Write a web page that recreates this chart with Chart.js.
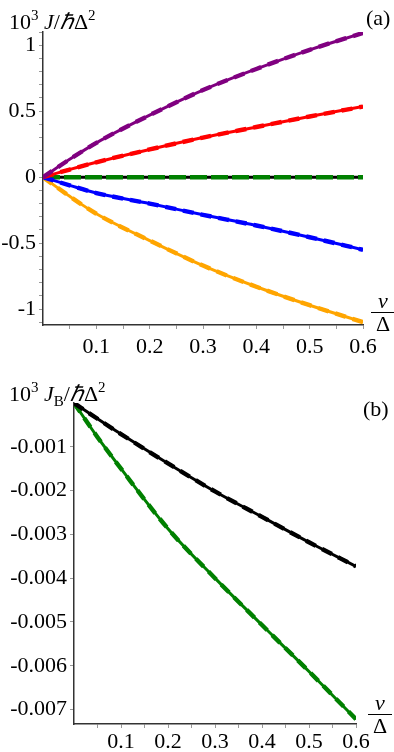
<!DOCTYPE html>
<html>
<head>
<meta charset="utf-8">
<script src="https://cdn.jsdelivr.net/npm/chart.js@4.4.1/dist/chart.umd.min.js"></script>
<style>
  body { margin: 0; background: #fff; }
  #wrap { position: relative; width: 394px; height: 752px; background: #fff; overflow: hidden; }
  canvas { position: absolute; left: 0; }
  .lbl { position: absolute; font-family: 'Liberation Serif', 'Times New Roman', serif; font-size: 22px;
         line-height: normal; white-space: nowrap; color: #000; }
  .sup { font-size: 15px; position: relative; top: -9px; }
  .sub { font-size: 15px; position: relative; top: 5px; }
  .frac { text-align: center; width: 24px; }
  .frac .den { border-top: 1.5px solid #000; line-height: 22px; }
  .frac .num { line-height: 22px; }
</style>
</head>
<body>
<div id="wrap">
  <canvas id="chartA" width="394" height="370" style="top:0"></canvas>
  <canvas id="chartB" width="394" height="382" style="top:370px"></canvas>

  <div class="lbl" style="left:9px;top:5px">10<span class="sup">3</span> <i>J</i>/<i>ℏ</i>Δ<span class="sup">2</span></div>
  <div class="lbl" style="left:366px;top:5px">(a)</div>
  <div class="lbl frac" style="left:371px;top:290px"><div class="num"><i>ν</i></div><div class="den">Δ</div></div>

  <div class="lbl" style="left:9px;top:377px">10<span class="sup">3</span> <i>J</i><span class="sub">B</span>/<i>ℏ</i>Δ<span class="sup">2</span></div>
  <div class="lbl" style="left:363px;top:396px">(b)</div>
  <div class="lbl frac" style="left:368px;top:692px"><div class="num"><i>ν</i></div><div class="den">Δ</div></div>
</div>

<script>
// x values (nu / Delta) shared by every curve
const nu = [0, 0.05, 0.1, 0.2, 0.3, 0.4, 0.5, 0.6];

// panel (a): 10^3 J / (hbar Delta^2)
const purpleJ = [0, 0.135, 0.26, 0.47, 0.66, 0.82, 0.965, 1.093];
const redJ    = [0, 0.058, 0.113, 0.21, 0.30, 0.38, 0.46, 0.535];
const blackJ  = [0, 0, 0, 0, 0, 0, 0, 0];
const greenJ  = [0, 0, 0, 0, 0, 0, 0, 0];
const blueJ   = [0, -0.062, -0.12, -0.20, -0.285, -0.366, -0.455, -0.55];
const orangeJ = [0, -0.145, -0.277, -0.48, -0.67, -0.83, -0.97, -1.098];

// panel (b): 10^3 J_B / (hbar Delta^2)
const blackJB = [0, -0.00036, -0.00071, -0.00138, -0.00202, -0.0026, -0.00318, -0.00373];
const greenJB = [0, -0.00078, -0.0015, -0.00287, -0.004, -0.00507, -0.00613, -0.00722];

// ticks
const xTickValues = [0.05, 0.1, 0.15, 0.2, 0.25, 0.3, 0.35, 0.4, 0.45, 0.5, 0.55, 0.6];
const xTickLabels = ['', '0.1', '', '0.2', '', '0.3', '', '0.4', '', '0.5', '', '0.6'];
const aYTickValues = [-1.1, -1, -0.9, -0.8, -0.7, -0.6, -0.5, -0.4, -0.3, -0.2, -0.1, 0,
                      0.1, 0.2, 0.3, 0.4, 0.5, 0.6, 0.7, 0.8, 0.9, 1, 1.1];
const aYTickLabels = ['', '-1', '', '', '', '', '-0.5', '', '', '', '', '0',
                      '', '', '', '', '0.5', '', '', '', '', '1', ''];
const bYTickValues = [-0.007, -0.006, -0.005, -0.004, -0.003, -0.002, -0.001];
const bYTickLabels = ['-0.007', '-0.006', '-0.005', '-0.004', '-0.003', '-0.002', '-0.001'];

const FONT = {family: "'Liberation Serif', 'Times New Roman', serif", size: 22};

const points = ys => nu.map((x, i) => ({x, y: ys[i]}));

// solid curve + dashed curve of the same colour on top
const curvePair = (ys, color) => [
    {data: points(ys), borderColor: color, borderWidth: 4.4, borderDash: [11, 7]},
    {data: points(ys), borderColor: color, borderWidth: 3}
];

// fixed tick positions from the arrays above
const fixedTicks = (values, labels) => ({
    afterBuildTicks: axis => { axis.ticks = values.map(v => ({value: v})); },
    ticks: {
        autoSkip: false,
        maxRotation: 0,
        color: '#000',
        font: FONT,
        callback: (v, i) => labels[i]
    }
});

function makeChart(id, datasets, opts) {
    const xT = fixedTicks(xTickValues, xTickLabels);
    const yT = fixedTicks(opts.yValues, opts.yLabels);
    return new Chart(document.getElementById(id), {
        type: 'line',
        data: {datasets},
        options: {
            responsive: false,
            animation: false,
            devicePixelRatio: 1,
            layout: {padding: opts.padding},
            elements: {
                point: {radius: 0},
                line: {cubicInterpolationMode: 'monotone', borderCapStyle: 'butt'}
            },
            plugins: {legend: {display: false}, tooltip: {enabled: false}},
            scales: {
                x: {
                    type: 'linear', min: 0, max: 0.6,
                    afterBuildTicks: xT.afterBuildTicks,
                    ticks: {...xT.ticks, padding: opts.xPad},
                    grid: {drawOnChartArea: false, tickLength: 4, color: '#999'},
                    border: {color: '#333', width: 1.5},
                    afterFit: s => { s.height = opts.xHeight; }
                },
                y: {
                    type: 'linear', min: opts.yMin, max: opts.yMax,
                    afterBuildTicks: yT.afterBuildTicks,
                    ticks: {...yT.ticks, padding: 3},
                    grid: {drawOnChartArea: false, tickLength: 4, color: '#999'},
                    border: {color: '#333', width: 1.5},
                    afterFit: s => { s.width = opts.yWidth; }
                }
            }
        }
    });
}

// index 0 is painted last, so it ends up on top
const datasetsA = [
    ...curvePair(purpleJ, '#800080'),
    ...curvePair(redJ, '#ff0000'),
    ...curvePair(blueJ, '#0000ff'),
    ...curvePair(orangeJ, '#ffa500'),
    {data: points(greenJ), borderColor: '#008000', borderWidth: 4.5, borderDash: [17, 4]},
    {data: points(blackJ), borderColor: '#000000', borderWidth: 3}
];

const datasetsB = [
    ...curvePair(blackJB, '#000000'),
    ...curvePair(greenJB, '#008000')
];

makeChart('chartA', datasetsA, {
    yMin: -1.12, yMax: 1.1,
    yValues: aYTickValues, yLabels: aYTickLabels,
    padding: {top: 32, right: 31, left: 0, bottom: 0},
    yWidth: 43, xHeight: 45, xPad: 5
});

makeChart('chartB', datasetsB, {
    yMin: -0.00733, yMax: 0,
    yValues: bYTickValues, yLabels: bYTickLabels,
    padding: {top: 33, right: 38, left: 0, bottom: 0},
    yWidth: 74, xHeight: 28, xPad: 1
});
</script>
</body>
</html>
